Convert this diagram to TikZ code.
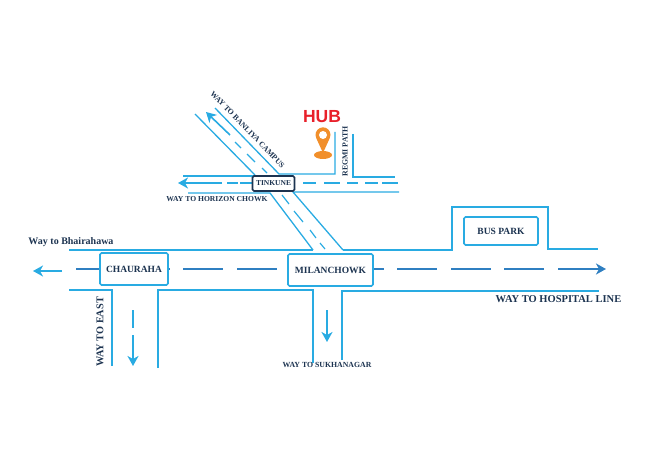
\documentclass[tikz,border=0pt]{standalone}
\usepackage{fontspec}
\setmainfont{Liberation Serif}
\newfontfamily\hubfont{Liberation Sans}
\usetikzlibrary{arrows.meta}
\definecolor{roadblue}{HTML}{29ABE2}
\definecolor{dashblue}{HTML}{2F7FC1}
\definecolor{labelnavy}{HTML}{1C3350}
\definecolor{pinorange}{HTML}{F18F2B}
\definecolor{hubred}{HTML}{E8202A}
\tikzset{
  roadline/.style={draw=roadblue, line width=1.3pt, line join=miter},
  midline/.style={draw=dashblue, line width=1.8pt},
  sideline/.style={draw=roadblue, line width=1.2pt},
  arrowline/.style={draw=roadblue, line width=1.6pt, -{Stealth[length=10pt,width=11pt,inset=3pt]}},
  placebox/.style={rectangle, draw=roadblue, line width=1.6pt, rounded corners=1.5pt, fill=white, inner sep=0pt, text=labelnavy, font=\fontsize{9.5}{11}\selectfont\bfseries},
  maplabel/.style={inner sep=0pt, text=labelnavy, font=\fontsize{7.8}{10}\selectfont\bfseries}
}
\begin{document}
\begin{tikzpicture}[x=1pt, y=-1pt]
\useasboundingbox (0,0) rectangle (648,468);

% upper cross road
\draw[roadline] (183,176) -- (255,176);
\draw[roadline] (195,114) -- (255,175);
\draw[roadline] (215,108) -- (279,174) -- (335,174) -- (335,132);
\draw[roadline] (353,134) -- (353,177) -- (395,177);
\draw[roadline] (188,193) -- (270,193) -- (313,250);
\draw[roadline] (399,192) -- (293,192) -- (343,250);

% main road
\draw[roadline] (69,250) -- (313,250);
\draw[roadline] (343,250) -- (452,250) -- (452,207) -- (548,207) -- (548,249) -- (598,249);
\draw[roadline] (69,290) -- (112,290) -- (112,366);
\draw[roadline] (158,368) -- (158,290) -- (313,290) -- (313,363);
\draw[roadline] (342,360) -- (342,291) -- (599,291);

% centre lines
\foreach \xa/\xb in {76/100, 168/170, 183/223, 237/277, 374/384, 397/437, 451/491, 504/544}
  \draw[midline] (\xa,269) -- (\xb,269);
\draw[midline, -{Stealth[length=10pt,width=11pt,inset=3pt]}] (558,269) -- (606,269);
\draw[arrowline] (62,271) -- (33,271);
\foreach \xa/\xb in {227/238, 240/253, 303/316, 324/340, 347/358, 365/378, 382/398}
  \draw[sideline] (\xa,183) -- (\xb,183);
\draw[arrowline] (222,183) -- (178,183);
\draw[arrowline] (230,135) -- (206,112);
\foreach \xa/\ya/\xb/\yb in {235/142/241/148, 247/154/255/162, 262/168/267/173, 282/195/289/204, 294/211/303/222, 310/230/316/238, 320/243/325/249}
  \draw[sideline] (\xa,\ya) -- (\xb,\yb);
\draw[sideline] (133,310) -- (133,328);
\draw[arrowline] (133,335) -- (133,366);
\draw[arrowline] (327,310) -- (327,342);

% places
\node[placebox, minimum width=68pt, minimum height=32pt] (chauraha) at (134,269) {CHAURAHA};
\node[placebox, minimum width=85pt, minimum height=32pt] (milanchowk) at (330.5,270) {MILANCHOWK};
\node[placebox, minimum width=74pt, minimum height=28pt] (buspark) at (501,231) {BUS PARK};
\node[placebox, draw=labelnavy, minimum width=42pt, minimum height=15pt, font=\fontsize{7.5}{9}\selectfont\bfseries] (tinkune) at (273.5,183.5) {TINKUNE};

% labels
\node[maplabel, rotate=-46] (banliya) at (247.5,129.5) {WAY TO BANLIYA CAMPUS};
\node[maplabel, rotate=90] (regmi) at (345,151.5) {REGMI PATH};
\node[maplabel, font=\fontsize{7.6}{10}\selectfont\bfseries] (horizon) at (217,199) {WAY TO HORIZON CHOWK};
\node[maplabel, font=\fontsize{10}{12}\selectfont\bfseries] (bhairahawa) at (71,242) {Way to Bhairahawa};
\node[maplabel, rotate=90, font=\fontsize{10.3}{12}\selectfont\bfseries] (east) at (100,332) {WAY TO EAST};
\node[maplabel] (sukhanagar) at (327,365) {WAY TO SUKHANAGAR};
\node[maplabel, font=\fontsize{10.5}{12}\selectfont\bfseries] (hospital) at (558.5,299) {WAY TO HOSPITAL LINE};

% hub pin
\node[inner sep=0pt, text=hubred, font=\hubfont\fontsize{17.5}{19}\selectfont\bfseries] (hub) at (322,117) {HUB};
\fill[pinorange] (323,155) ellipse (9pt and 4pt);
\fill[pinorange] (323,153) -- (316.2,138) arc (205:-25:7.5pt) -- cycle;
\fill[white] (323,135) circle (4pt);
\end{tikzpicture}
\end{document}
